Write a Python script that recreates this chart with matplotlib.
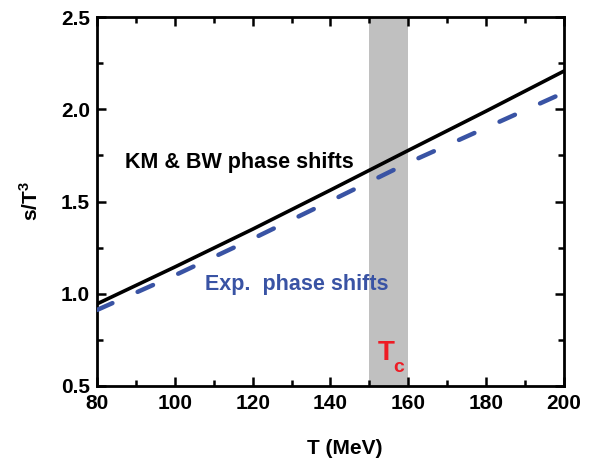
import matplotlib
matplotlib.use("Agg")
import matplotlib.pyplot as plt
from matplotlib.ticker import MultipleLocator

plt.rcParams['font.family'] = ['Liberation Sans', 'DejaVu Sans']
plt.rcParams['font.weight'] = 'bold'

# entropy density over T^3 vs temperature
T = [80, 100, 120, 140, 160, 180, 200]
s_km_bw = [0.945, 1.145, 1.350, 1.562, 1.777, 1.990, 2.207]
s_exp = [0.912, 1.100, 1.298, 1.503, 1.710, 1.900, 2.090]
tc_band = (150, 160)

fig = plt.figure(figsize=(6.01, 4.61), dpi=100)
ax = fig.add_axes([0.1614, 0.1627, 0.777, 0.8004])

ax.axvspan(*tc_band, color='#c0c0c0', lw=0, zorder=1)
ax.plot(T, s_km_bw, color='black', lw=2.6, zorder=3)
ax.plot(T, s_exp, color='#3953a4', lw=3.2, dashes=(3.8, 6.2),
        dash_capstyle='round', zorder=3)

ax.text(87.2, 1.68, 'KM & BW phase shifts', fontsize=15.5, fontweight='bold',
        color='black')
ax.text(107.8, 1.02, 'Exp.  phase shifts', fontsize=15.5, fontweight='bold',
        color='#3953a4')
# T_c label, subscript drawn separately so it sits lower
ax.text(152.2, 0.641, 'T', fontsize=20, fontweight='bold', color='#ee1c25')
ax.text(156.2, 0.578, 'c', fontsize=14, fontweight='bold', color='#ee1c25')

ax.set_xlim(80, 200)
ax.set_ylim(0.5, 2.5)
ax.xaxis.set_major_locator(MultipleLocator(20))
ax.xaxis.set_minor_locator(MultipleLocator(10))
ax.yaxis.set_major_locator(MultipleLocator(0.5))
ax.yaxis.set_minor_locator(MultipleLocator(0.25))
ax.tick_params(which='both', direction='in', top=True, right=True, width=1.8,
               labelsize=15)
ax.tick_params(which='major', length=6.5)
ax.tick_params(which='minor', length=4.5)
ax.tick_params(axis='x', which='major', pad=6)
ax.tick_params(axis='y', which='major', pad=5)
for lab in ax.get_xticklabels() + ax.get_yticklabels():
    lab.set_fontweight('bold')
for sp in ax.spines.values():
    sp.set_linewidth(2.0)

ax.set_xlabel('T (MeV)', fontsize=15, fontweight='bold', labelpad=10)
ax.xaxis.set_label_coords(0.53, -0.145)
ax.set_ylabel(r's/T$^\mathregular{3}$', fontsize=15, fontweight='bold')
ax.yaxis.set_label_coords(-0.118, 0.5)

fig.savefig('out.png', dpi=100)
